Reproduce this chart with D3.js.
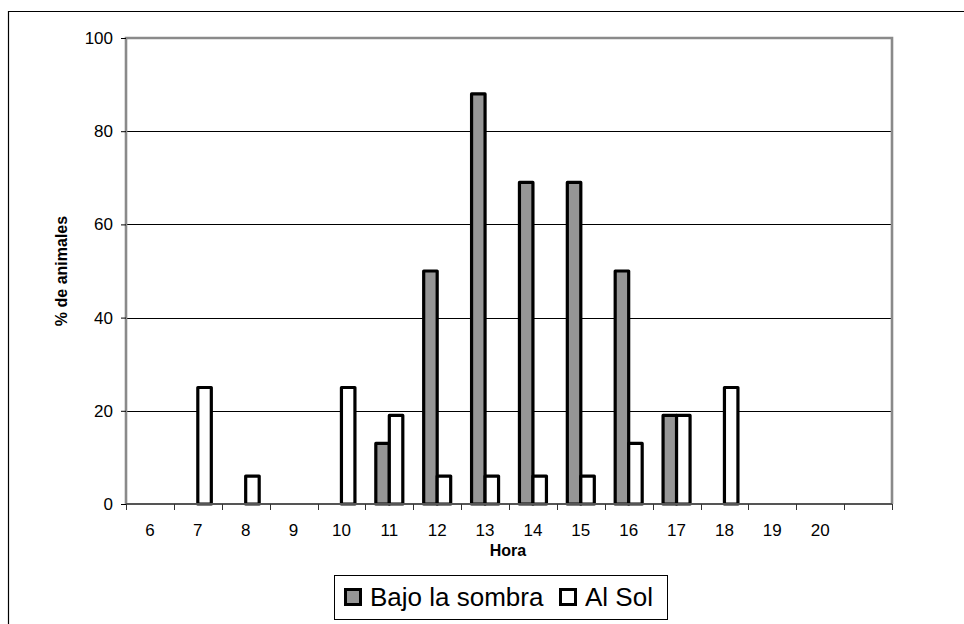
<!DOCTYPE html>
<html>
<head>
<meta charset="utf-8">
<script src="https://cdn.jsdelivr.net/npm/d3@7"></script>
<style>
  html, body { margin: 0; padding: 0; background: #fff; }
  svg { display: block; font-family: "Liberation Sans", Arial, sans-serif; }
</style>
</head>
<body>
<svg id="chart" width="964" height="624"></svg>
<script>
// Hours of the day (the axis keeps one extra empty slot at the right end)
const horas = ["6", "7", "8", "9", "10", "11", "12", "13", "14", "15", "16", "17", "18", "19", "20"];
const slotVacio = "";
// % of animals in the shade and in the sun, per hour
const bajoSombra = [0, 0, 0, 0, 0, 13, 50, 88, 69, 69, 50, 19, 0, 0, 0];
const alSol      = [0, 25, 6, 0, 25, 19, 6, 6, 6, 6, 13, 19, 25, 0, 0];
const serieNombres = ["Bajo la sombra", "Al Sol"];
const serieColores = ["#969696", "#ffffff"];
const yTicks = [0, 20, 40, 60, 80, 100];

const svg = d3.select("#chart");
const plot = { left: 126, right: 892, top: 38, bottom: 504 };

// Outer chart frame (runs off the right and bottom edges)
svg.append("path")
  .attr("d", "M8.5,640 V11.5 H980")
  .attr("fill", "none").attr("stroke", "#000").attr("stroke-width", 1.2);

const x0 = d3.scaleBand()
  .domain(horas.concat([slotVacio]))
  .range([plot.left, plot.right])
  .paddingInner(0).paddingOuter(0);

const barW = 13.5;
const x1 = d3.scaleBand().domain(serieNombres).range([0, 2 * barW]);

const y = d3.scaleLinear().domain([0, 100]).range([plot.bottom, plot.top]);

// Horizontal gridlines
svg.append("g").selectAll("line")
  .data(yTicks.filter(d => d > 0 && d < 100))
  .join("line")
  .attr("x1", plot.left).attr("x2", plot.right)
  .attr("y1", d => Math.round(y(d)) + 0.5).attr("y2", d => Math.round(y(d)) + 0.5)
  .attr("stroke", "#000").attr("stroke-width", 1);

// Plot area border (top, left, right)
svg.append("path")
  .attr("d", `M${plot.left},${plot.bottom} V${plot.top} H${plot.right} V${plot.bottom}`)
  .attr("fill", "none").attr("stroke", "#8a8a8a").attr("stroke-width", 2.6);

// Bars
const filas = horas.map((h, i) => ({ hora: h, valores: [bajoSombra[i], alSol[i]] }));
const grupos = svg.append("g").selectAll("g")
  .data(filas)
  .join("g")
  .attr("transform", d => `translate(${x0(d.hora) + x0.bandwidth() / 2 - barW},0)`);

grupos.selectAll("rect")
  .data(d => d.valores.map((v, k) => ({ serie: serieNombres[k], k, v })).filter(e => e.v > 0))
  .join("rect")
  .attr("x", d => x1(d.serie))
  .attr("width", x1.bandwidth())
  .attr("y", d => y(d.v))
  .attr("height", d => y(0) - y(d.v))
  .attr("fill", d => serieColores[d.k])
  .attr("stroke", "#000")
  .attr("stroke-width", 3.2)
  .attr("stroke-linejoin", "round");

// Y axis
const yAxis = svg.append("g")
  .attr("transform", `translate(${plot.left},0)`)
  .call(d3.axisLeft(y).tickValues(yTicks).tickSize(5).tickPadding(8).tickFormat(d3.format("d")));
yAxis.select(".domain").remove();
yAxis.selectAll(".tick line").attr("stroke", "#000").attr("stroke-width", 1);
yAxis.selectAll(".tick text").attr("font-size", 17).attr("fill", "#000")
  .attr("font-family", "'Liberation Sans', Arial, sans-serif");

// X axis: ticks sit between categories, labels centred in each slot
const xAxis = svg.append("g").attr("transform", `translate(0,${plot.bottom})`);
xAxis.append("line")
  .attr("x1", plot.left).attr("x2", plot.right)
  .attr("stroke", "#555").attr("stroke-width", 2);
const limites = x0.domain().map(d => x0(d)).concat([plot.right]);
xAxis.selectAll("line.tk")
  .data(limites)
  .join("line").attr("class", "tk")
  .attr("x1", d => Math.round(d) + 0.5).attr("x2", d => Math.round(d) + 0.5)
  .attr("y1", 0).attr("y2", 6)
  .attr("stroke", "#333").attr("stroke-width", 1);
xAxis.selectAll("text")
  .data(horas)
  .join("text")
  .attr("x", d => x0(d) + x0.bandwidth() / 2)
  .attr("y", 32)
  .attr("text-anchor", "middle")
  .attr("font-size", 17)
  .text(d => d);

// Axis titles
svg.append("text")
  .attr("x", (plot.left + plot.right) / 2 - 1)
  .attr("y", 556)
  .attr("text-anchor", "middle")
  .attr("font-size", 16).attr("font-weight", "bold")
  .text("Hora");

svg.append("text")
  .attr("transform", `translate(67,${(plot.top + plot.bottom) / 2}) rotate(-90)`)
  .attr("text-anchor", "middle")
  .attr("font-size", 16).attr("font-weight", "bold")
  .text("% de animales");

// Legend
const leg = svg.append("g");
leg.append("rect")
  .attr("x", 334.5).attr("y", 575.5).attr("width", 333).attr("height", 44)
  .attr("fill", "#fff").attr("stroke", "#000").attr("stroke-width", 1);
const legX = [345.5, 560.5];
const legTxtX = [370, 585];
serieNombres.forEach((n, k) => {
  leg.append("rect")
    .attr("x", legX[k]).attr("y", 589.5).attr("width", 15).attr("height", 15)
    .attr("fill", serieColores[k]).attr("stroke", "#000").attr("stroke-width", 3);
  leg.append("text")
    .attr("x", legTxtX[k]).attr("y", 606)
    .attr("font-size", 26)
    .text(n);
});
</script>
</body>
</html>
